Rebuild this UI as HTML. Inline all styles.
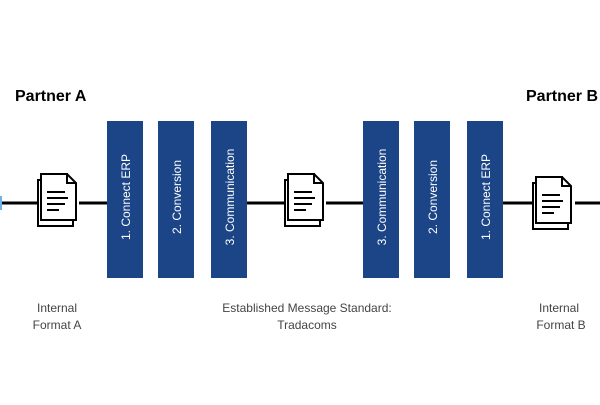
<!DOCTYPE html>
<html><head><style>
body{margin:0;width:600px;height:400px;background:#fff;overflow:hidden;font-family:"Liberation Sans",sans-serif}
</style></head><body>
<svg width="600" height="400" xmlns="http://www.w3.org/2000/svg">
<defs>
<g id="doc">
<path d="M0 6 H26 L35 15 V52 H0 Z" fill="#fff" stroke="#000" stroke-width="2"/>
<path d="M4 2 H30 L39 11 V48 H4 Z" fill="#fff" stroke="#000" stroke-width="2" transform="translate(-1,-2)"/>
<path d="M29 -1 V9 H38" fill="none" stroke="#000" stroke-width="2"/>
<line x1="9" y1="18" x2="27" y2="18" stroke="#000" stroke-width="2"/>
<line x1="9" y1="24" x2="30" y2="24" stroke="#000" stroke-width="2"/>
<line x1="9" y1="30" x2="27" y2="30" stroke="#000" stroke-width="2"/>
<line x1="9" y1="36" x2="21" y2="36" stroke="#000" stroke-width="2"/>
</g>
</defs>
<g stroke="#000" stroke-width="3">
<line x1="0" y1="203" x2="37" y2="203"/><line x1="79" y1="203" x2="107" y2="203"/>
<line x1="247" y1="203" x2="284" y2="203"/><line x1="326" y1="203" x2="363" y2="203"/>
<line x1="503" y1="203" x2="532" y2="203"/><line x1="575" y1="203" x2="600" y2="203"/>
</g>
<rect x="0" y="196" width="2" height="14" fill="#6cb4e4"/>
<use href="#doc" x="38" y="174"/>
<use href="#doc" x="285" y="174"/>
<use href="#doc" x="533" y="177"/>
<g fill="#1b4586">
<rect x="107" y="121" width="36" height="157"/><rect x="158" y="121" width="36" height="157"/><rect x="211" y="121" width="36" height="157"/>
<rect x="363" y="121" width="36" height="157"/><rect x="414" y="121" width="36" height="157"/><rect x="467" y="121" width="36" height="157"/>
</g>
<g fill="#fff" font-size="12" text-anchor="middle">
<text transform="translate(130,197) rotate(-90)">1. Connect ERP</text>
<text transform="translate(181,197) rotate(-90)">2. Conversion</text>
<text transform="translate(234,197) rotate(-90)">3. Communication</text>
<text transform="translate(386,197) rotate(-90)">3. Communication</text>
<text transform="translate(437,197) rotate(-90)">2. Conversion</text>
<text transform="translate(490,197) rotate(-90)">1. Connect ERP</text>
</g>
<g font-weight="bold" font-size="16">
<text x="15" y="101">Partner A</text>
<text x="526" y="101">Partner B</text>
</g>
<g font-size="12" fill="#444" text-anchor="middle">
<text x="57" y="312">Internal</text><text x="57" y="329">Format A</text>
<text x="307" y="312">Established Message Standard:</text><text x="307" y="329">Tradacoms</text>
<text x="559" y="312">Internal</text><text x="561" y="329">Format B</text>
</g>
</svg>
</body></html>
